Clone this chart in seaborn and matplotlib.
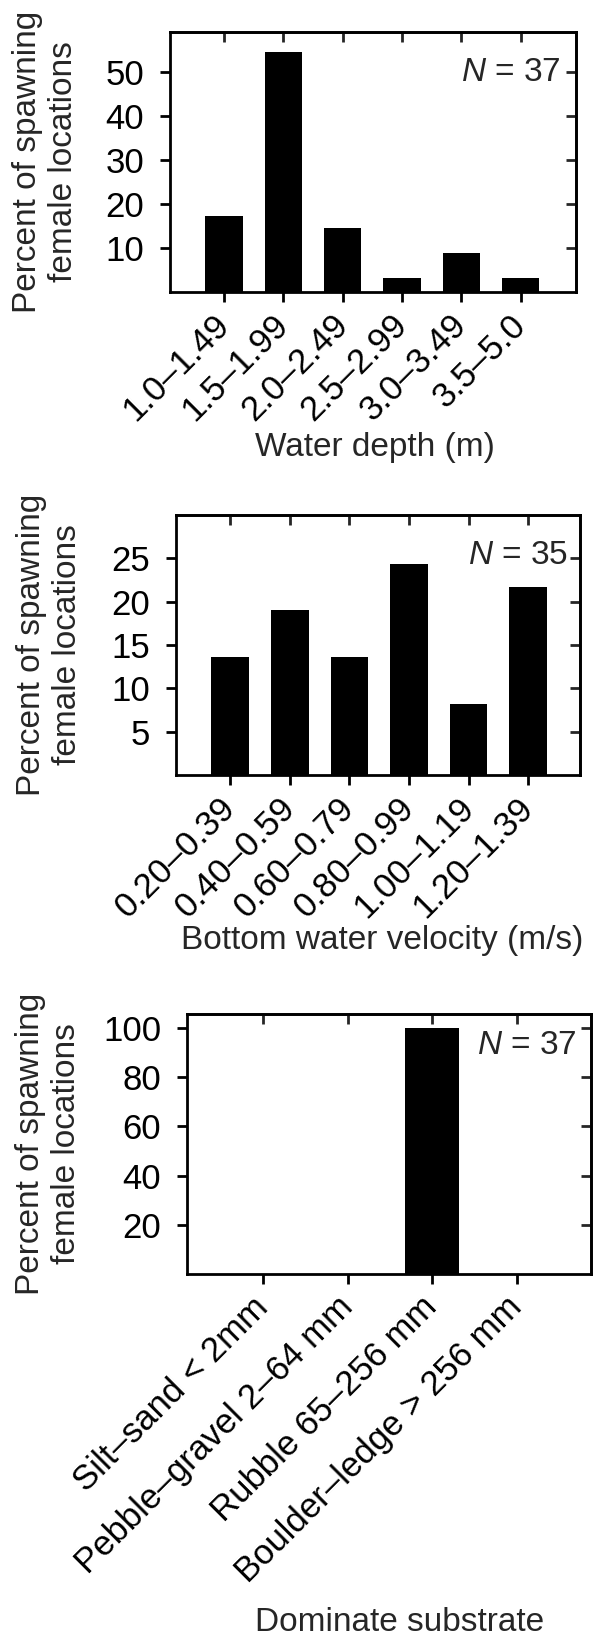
import matplotlib
matplotlib.use("Agg")
import matplotlib.pyplot as plt
import seaborn as sns

depth_labels = ["1.0–1.49", "1.5–1.99", "2.0–2.49", "2.5–2.99", "3.0–3.49", "3.5–5.0"]
depth_pct = [17.3, 54.5, 14.5, 3.1, 8.8, 3.1]

velocity_labels = ["0.20–0.39", "0.40–0.59", "0.60–0.79", "0.80–0.99", "1.00–1.19", "1.20–1.39"]
velocity_pct = [13.6, 19.0, 13.6, 24.4, 8.2, 21.7]

substrate_labels = ["Silt–sand < 2mm", "Pebble–gravel 2–64 mm", "Rubble 65–256 mm", "Boulder–ledge > 256 mm"]
substrate_pct = [0, 0, 100, 0]

sns.set_style("ticks")
plt.rcParams["font.family"] = ["Liberation Sans", "DejaVu Sans"]
plt.rcParams["mathtext.fontset"] = "custom"
plt.rcParams["mathtext.rm"] = "Liberation Sans"
plt.rcParams["mathtext.it"] = "Liberation Sans:italic"
FS = 24
TICK_FS = 25

W, H = 593, 1639
fig = plt.figure(figsize=(W / 100, H / 100), dpi=100)

panels = [
    dict(vals=depth_pct, labels=depth_labels, xlabel="Water depth (m)", n=37,
         box=(170, 32, 576, 292), ylim=59, yticks=[10, 20, 30, 40, 50], xlim=(-0.91, 5.93),
         xlab=(0.505, 432), ylab=79, noff=(-15, -25)),
    dict(vals=velocity_pct, labels=velocity_labels, xlabel="Bottom water velocity (m/s)", n=35,
         box=(176, 515, 580, 775), ylim=30, yticks=[5, 10, 15, 20, 25], xlim=(-0.91, 5.87),
         xlab=(0.51, 925), ylab=83, noff=(-12, -25)),
    dict(vals=substrate_pct, labels=substrate_labels, xlabel="Dominate substrate", n=37,
         box=(187, 1014, 591, 1274), ylim=105.7, yticks=[20, 40, 60, 80, 100], xlim=(-0.9, 3.88),
         xlab=(0.525, 1607), ylab=82, noff=(-14, -16)),
]

for p in panels:
    l, t, r, b = p["box"]
    ax = fig.add_axes([l / W, 1 - b / H, (r - l) / W, (b - t) / H])
    sns.barplot(x=p["labels"], y=p["vals"], color="black", saturation=1,
                width=0.63, linewidth=0, ax=ax)
    ax.set_xlim(*p["xlim"])
    ax.set_ylim(0, p["ylim"])
    ax.set_yticks(p["yticks"])
    for s in ax.spines.values():
        s.set_visible(True)
        s.set_linewidth(2)
        s.set_color("black")
    ax.tick_params(axis="both", direction="out", length=7.2, width=2, colors="black",
                   labelsize=TICK_FS)
    ax.tick_params(axis="x", pad=13)
    ax.tick_params(axis="y", pad=11.5)
    plt.setp(ax.get_xticklabels(), rotation=45, ha="right", va="center",
             rotation_mode="anchor")

    # top and right ticks point inwards
    top = ax.secondary_xaxis("top")
    top.set_xticks(range(len(p["labels"])))
    top.tick_params(direction="in", length=7.2, width=2, labeltop=False)
    top.spines["top"].set_linewidth(2)
    right = ax.secondary_yaxis("right")
    right.set_yticks(p["yticks"])
    right.tick_params(direction="in", length=7.2, width=2, labelright=False)
    right.spines["right"].set_linewidth(2)

    ax.set_xlabel(p["xlabel"], fontsize=FS)
    ax.xaxis.set_label_coords(p["xlab"][0], (b - p["xlab"][1]) / (b - t))
    ax.set_ylabel("Percent of spawning\nfemale locations", fontsize=FS, linespacing=1.2)
    ax.yaxis.set_label_coords((p["ylab"] - l) / (r - l), 0.5)

    ax.annotate(f"$N$ = {p['n']}", xy=(1, 1), xycoords="axes fraction",
                xytext=p["noff"], textcoords="offset pixels",
                ha="right", va="top", fontsize=FS)

fig.savefig("out.png", dpi=100)
